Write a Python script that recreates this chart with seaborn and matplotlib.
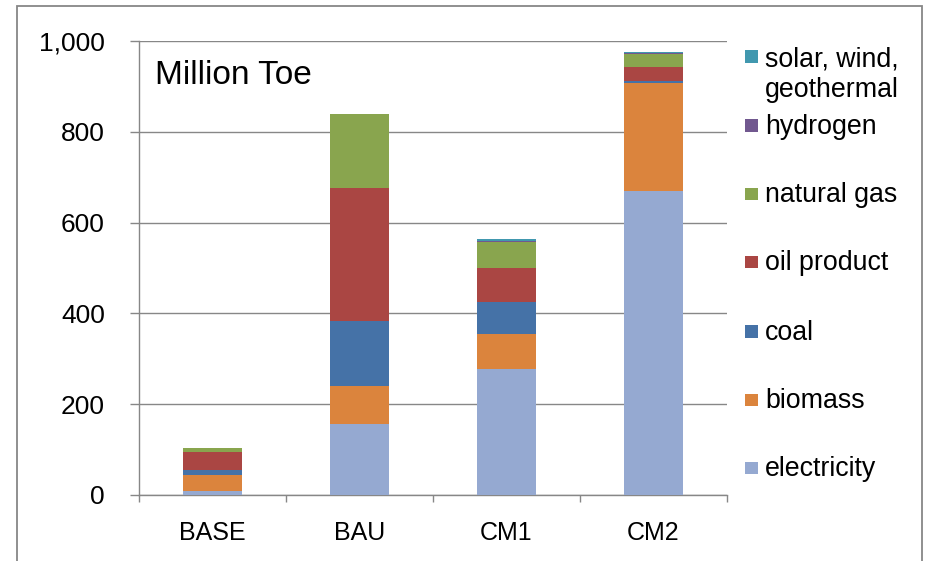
import matplotlib
matplotlib.use("Agg")
import matplotlib.pyplot as plt
import seaborn as sns
import numpy as np
from matplotlib.patches import Rectangle

scenarios = ["BASE", "BAU", "CM1", "CM2"]

# stacked layers, bottom to top (Million Toe)
electricity = [8, 156, 277, 670]
biomass = [35, 84, 77, 237]
coal = [11, 144, 72, 5]
oil_product = [41, 293, 74, 30]
natural_gas = [8, 162, 58, 30]
hydrogen = [0, 0, 1, 0.5]
solar_wind_geo = [0, 0, 4, 4]

layers = [
    ("electricity", electricity, "#95A9D1"),
    ("biomass", biomass, "#DB843D"),
    ("coal", coal, "#4572A7"),
    ("oil product", oil_product, "#AA4643"),
    ("natural gas", natural_gas, "#89A54E"),
    ("hydrogen", hydrogen, "#71588F"),
    ("solar, wind,\ngeothermal", solar_wind_geo, "#4198AF"),
]

sns.set_style("white")
plt.rcParams["font.family"] = ["Liberation Sans", "DejaVu Sans"]
plt.rcParams["text.color"] = "black"
plt.rcParams["xtick.labelcolor"] = "black"
plt.rcParams["ytick.labelcolor"] = "black"

W, H = 926, 561
fig = plt.figure(figsize=(W / 100, H / 100), dpi=100)
ax = fig.add_axes([139 / W, 1 - 495 / H, (727 - 139) / W, (495 - 41) / H])

grey = "#878787"
bottom = np.zeros(len(scenarios))
for name, vals, col in layers:
    sns.barplot(x=scenarios, y=vals, bottom=bottom, color=col, width=0.4,
                linewidth=0, saturation=1, ax=ax, zorder=3)
    bottom += np.array(vals)

ax.set_ylim(0, 1000)
ax.set_xlim(-0.5, 3.5)
ax.set_yticks([0, 200, 400, 600, 800, 1000])
ax.set_yticklabels(["0", "200", "400", "600", "800", "1,000"])
ax.yaxis.grid(True, color=grey, linewidth=1.0, zorder=0)
ax.set_axisbelow(True)
ax.tick_params(axis="y", labelsize=19, length=6.5, width=1, color=grey,
               left=True, pad=18, labelcolor="black")
ax.set_xticks(range(4))
ax.set_xticks([-0.5, 0.5, 1.5, 2.5, 3.5], minor=True)
ax.tick_params(axis="x", which="major", length=0, labelsize=18, pad=19,
               labelcolor="black")
ax.tick_params(axis="x", which="minor", length=5, width=1, color=grey, bottom=True)
for s in ["top", "right"]:
    ax.spines[s].set_visible(False)
for s in ["left", "bottom"]:
    ax.spines[s].set_color(grey)
    ax.spines[s].set_linewidth(1.0)
ax.set_xlabel("")
ax.set_ylabel("")

ax.text((155 - 139) / 588, (495 - 76) / 454, "Million Toe", transform=ax.transAxes,
        fontsize=24, va="center", ha="left", color="black")

# legend, drawn entry by entry to follow the original spacing
legend_y = [468, 400, 331.5, 262, 194, 125.7, 56.7]
for (name, vals, col), yc in zip(layers, legend_y):
    fig.patches.append(Rectangle((745 / W, 1 - (yc + 6.3) / H), 12.6 / W, 12.6 / H,
                                 transform=fig.transFigure, color=col, lw=0))
    if "\n" in name:
        fig.text(765 / W, 1 - 47 / H, name, fontsize=19.3, va="top", ha="left",
                 linespacing=1.2, color="black")
    else:
        fig.text(765 / W, 1 - (yc + 1) / H, name, fontsize=19.3, va="center",
                 ha="left", color="black")

# outer chart frame
fig.patches.append(Rectangle((17 / W, -0.05), (922 - 17) / W, 1.05 - 6 / H,
                             transform=fig.transFigure, fill=False,
                             edgecolor=grey, lw=1.3))

fig.savefig("out.png", dpi=100)
